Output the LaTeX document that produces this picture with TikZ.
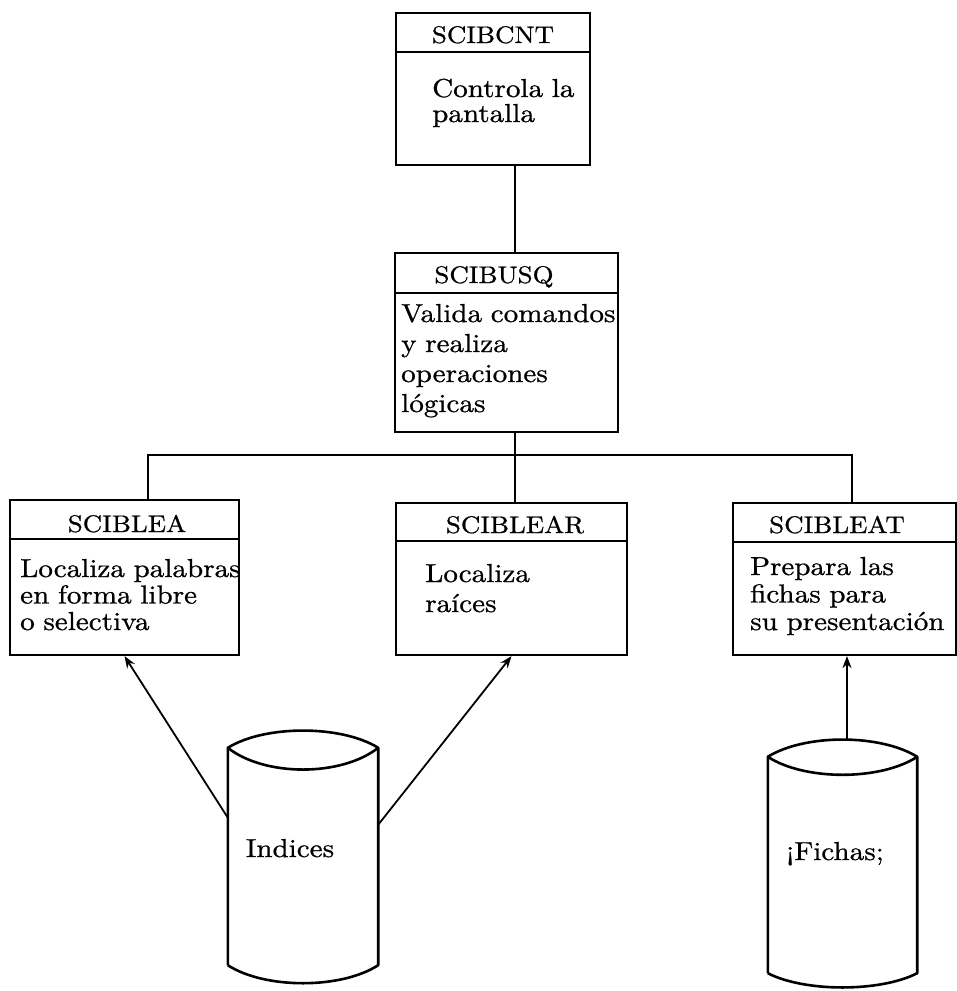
\documentclass[tikz,border=0pt]{standalone}
\usepackage{fontspec}
\setmainfont{lmroman10-regular.otf}[FakeStretch=1.12,FakeBold=0.8]
\usetikzlibrary{arrows.meta}
\tikzset{
    modbox/.style={draw,line width=2.2pt,inner sep=0pt},
    title/.style={anchor=base,inner sep=0pt,font=\fontsize{24}{26}\selectfont},
    body/.style={anchor=base west,inner sep=0pt,text width=230pt,align=left,
        font=\fontsize{26}{#1}\selectfont},
    body/.default=27.5,
    link/.style={line width=2.2pt},
    drum/.style={line width=2.6pt,line join=round},
    feed/.style={line width=1.8pt,-{Stealth[open,length=12pt,width=9pt]}},
}
\begin{document}
\begin{tikzpicture}[x=1pt,y=-1pt]
        \useasboundingbox (0,0) rectangle (957,991);
        %% modules
        \node[modbox,minimum width=194pt,minimum height=152pt] (cnt) at (493,89) {};
        \node[modbox,minimum width=223pt,minimum height=179pt] (busq) at (506.5,342.5) {};
        \node[modbox,minimum width=229pt,minimum height=155pt] (lea) at (124.5,577.5) {};
        \node[modbox,minimum width=231pt,minimum height=152pt] (lear) at (511.5,579) {};
        \node[modbox,minimum width=223pt,minimum height=152pt] (leat) at (844.5,579) {};
        \foreach \b/\h in {cnt/40,busq/41,lea/40,lear/39,leat/40} {
            \draw[link] ([yshift=-\h pt]\b.north west) -- ([yshift=-\h pt]\b.north east);
        }
        %% names
        \node[title] (cntname) at (493,43) {SCIBCNT};
        \node[title] (busqname) at (494,283) {SCIBUSQ};
        \node[title] (leaname) at (127,532) {SCIBLEA};
        \node[title] (learname) at (515,533) {SCIBLEAR};
        \node[title] (leatname) at (837,533) {SCIBLEAT};
        %% tasks
        \node[body=25] (cnttask) at (432,97) {Controla la\\pantalla};
        \node[body=30] (busqtask) at (401,322) {Valida comandos\\y realiza\\operaciones\\lógicas};
        \node[body=26.5] (leatask) at (20,577) {Localiza palabras\\en forma libre\\o selectiva};
        \node[body=30] (leartask) at (425,582) {Localiza\\raíces};
        \node[body=27.5] (leattask) at (750,575) {Prepara las\\fichas para\\su presentación};
        %% calls
        \coordinate (spine) at (515,455);
        \coordinate (busL) at (148,455);
        \coordinate (busR) at (852,455);
        \draw[link] (spine |- cnt.south) -- (spine |- busq.north);
        \draw[link] (spine |- busq.south) -- (spine |- lear.north);
        \draw[link] (busL |- lea.north) -- (busL) -- (busR) -- (busR |- leat.north);
        %% files
        \node[minimum width=150pt,minimum height=217pt,inner sep=0pt] (idx) at (303,856.5) {};
        \node[minimum width=149pt,minimum height=216pt,inner sep=0pt] (fch) at (842.5,865) {};
        \draw[drum] (idx.south west) -- (idx.north west)
            .. controls +(37,-23) and +(-37,-23) .. (idx.north east) -- (idx.south east)
            .. controls +(-37,24) and +(37,24) .. (idx.south west);
        \draw[drum] (idx.north west) .. controls +(37,29) and +(-37,29) .. (idx.north east);
        \draw[drum] (fch.south west) -- (fch.north west)
            .. controls +(37,-23) and +(-37,-23) .. (fch.north east) -- (fch.south east)
            .. controls +(-37,19) and +(37,19) .. (fch.south west);
        \draw[drum] (fch.north west) .. controls +(37,24) and +(-37,24) .. (fch.north east);
        \node[inner sep=0pt,anchor=base,font=\fontsize{26}{28}\selectfont] (idxname) at (290,857) {Indices};
        \node[inner sep=0pt,anchor=base,font=\fontsize{26}{28}\selectfont] (fchname) at (835,860) {¡Fichas;};
        %% reads
        \coordinate (idxL) at (228,818);
        \coordinate (idxR) at (378,825);
        \coordinate (fchtop) at (847,740);
        \draw[feed] (idxL) -- (lea.south);
        \draw[feed] (idxR) -- (lear.south);
        \draw[feed] (fchtop) -- (fchtop |- leat.south);
\end{tikzpicture}
\end{document}
